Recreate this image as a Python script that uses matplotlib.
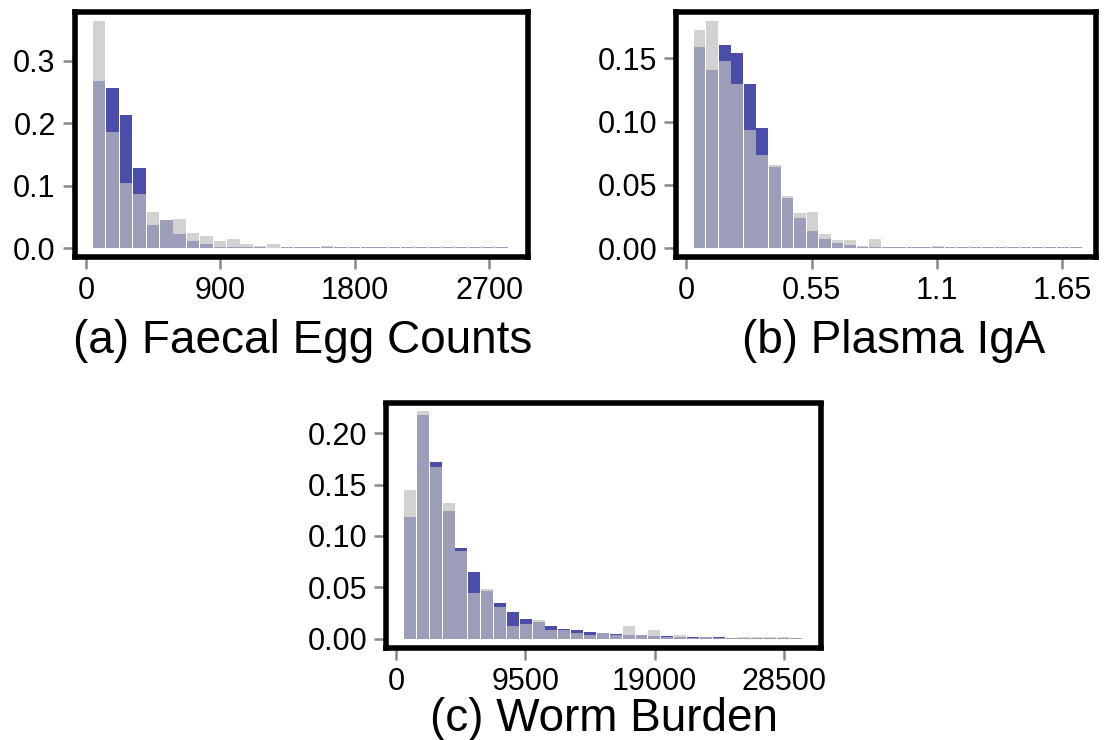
import matplotlib
matplotlib.use("Agg")
import matplotlib.pyplot as plt
import numpy as np

plt.rcParams['font.family'] = ['Liberation Sans', 'DejaVu Sans']

# ---------------- data ----------------
# (a) Faecal Egg Counts
fec_bin_start = 47.0
fec_bin_width = 89.7
fec_blue = [0.267, 0.2565, 0.213, 0.1285, 0.037, 0.045, 0.023, 0.0117, 0.007, 0.0025,
            0.0025, 0.002, 0.0015, 0.0012, 0.0015, 0.0015, 0.0015, 0.0015, 0.0015, 0.0015,
            0.0015, 0.0015, 0.0015, 0.0015, 0.0015, 0.0015, 0.0015, 0.0015, 0.0015, 0.0015, 0.0015]
fec_gray = [0.364, 0.186, 0.105, 0.087, 0.058, 0.0455, 0.047, 0.0245, 0.0197, 0.0117,
            0.015, 0.007, 0.0037, 0.007, 0.0015, 0.0015, 0.0025, 0.0037, 0.0025, 0.0015,
            0.0015, 0.0015, 0.0015, 0.0015, 0.0015, 0.0025, 0.0015, 0.0025, 0.0015, 0.0015, 0.0015]
fec_xticks = [0, 900, 1800, 2700]
fec_xticklabels = ['0', '900', '1800', '2700']
fec_yticks = [0.0, 0.1, 0.2, 0.3]
fec_yticklabels = ['0.0', '0.1', '0.2', '0.3']

# (b) Plasma IgA
iga_bin_start = 0.0323
iga_bin_width = 0.0551
iga_blue = [0.159, 0.141, 0.161, 0.154, 0.130, 0.095, 0.0642, 0.0397, 0.024, 0.0137,
            0.0074, 0.0042, 0.0026, 0.0012, 0.0008, 0.0008, 0.0008, 0.0008, 0.0008, 0.0008,
            0.0008, 0.0008, 0.0008, 0.0008, 0.0008, 0.0008, 0.0008, 0.0008, 0.0008, 0.0008, 0.0008]
iga_gray = [0.1724, 0.1795, 0.148, 0.130, 0.0934, 0.0737, 0.0658, 0.0413, 0.0279, 0.0287,
            0.0113, 0.0066, 0.0066, 0.0018, 0.0074, 0.0012, 0.0008, 0.0008, 0.0008, 0.0018,
            0.0008, 0.0008, 0.0008, 0.0008, 0.0008, 0.0008, 0.0008, 0.0008, 0.0008, 0.0008, 0.0008]
iga_xticks = [0, 0.55, 1.1, 1.65]
iga_xticklabels = ['0', '0.55', '1.1', '1.65']
iga_yticks = [0.0, 0.05, 0.10, 0.15]
iga_yticklabels = ['0.00', '0.05', '0.10', '0.15']

# (c) Worm Burden
wb_bin_start = 588.0
wb_bin_width = 945.0
wb_blue = [0.1185, 0.2179, 0.172, 0.1244, 0.0883, 0.0649, 0.0464, 0.0347, 0.026, 0.0192,
           0.0162, 0.0123, 0.0094, 0.0084, 0.0065, 0.0055, 0.0045, 0.0036, 0.0036, 0.0026,
           0.0026, 0.0016, 0.0016, 0.0016, 0.0016, 0.001, 0.001, 0.001, 0.0008, 0.0008, 0.0008]
wb_gray = [0.1448, 0.2218, 0.1672, 0.1321, 0.0854, 0.0445, 0.0484, 0.0308, 0.0123, 0.0143,
           0.0182, 0.0084, 0.0084, 0.0055, 0.0036, 0.0055, 0.0036, 0.0123, 0.0036, 0.0084,
           0.0016, 0.0036, 0.0008, 0.0016, 0.0008, 0.001, 0.0016, 0.0016, 0.0016, 0.0016, 0.0008]
wb_xticks = [0, 9500, 19000, 28500]
wb_xticklabels = ['0', '9500', '19000', '28500']
wb_yticks = [0.0, 0.05, 0.10, 0.15, 0.20]
wb_yticklabels = ['0.00', '0.05', '0.10', '0.15', '0.20']

titles = ['(a) Faecal Egg Counts', '(b) Plasma IgA', '(c) Worm Burden']

# ---------------- style ----------------
BLUE = '#4b4dab'
GRAY = '#c0c0c0'
W, H = 1120, 740

fig = plt.figure(figsize=(W / 100, H / 100), dpi=100)


def px_axes(left, right, top, bottom):
    return fig.add_axes([left / W, 1 - bottom / H, (right - left) / W, (bottom - top) / H])


panels = [
    dict(box=(74.5, 528, 11.5, 257), start=fec_bin_start, width=fec_bin_width,
         blue=fec_blue, gray=fec_gray, xlim=(-77, 2958), ylim=(-0.014, 0.379),
         xt=fec_xticks, xtl=fec_xticklabels, yt=fec_yticks, ytl=fec_yticklabels,
         title=titles[0], title_x=303, title_y=353),
    dict(box=(676, 1096, 12, 257), start=iga_bin_start, width=iga_bin_width,
         blue=iga_blue, gray=iga_gray, xlim=(-0.046, 1.80), ylim=(-0.0069, 0.1867),
         xt=iga_xticks, xtl=iga_xticklabels, yt=iga_yticks, ytl=iga_yticklabels,
         title=titles[1], title_x=894, title_y=353),
    dict(box=(386, 820.5, 403.5, 648), start=wb_bin_start, width=wb_bin_width,
         blue=wb_blue, gray=wb_gray, xlim=(-735, 31190), ylim=(-0.0091, 0.229),
         xt=wb_xticks, xtl=wb_xticklabels, yt=wb_yticks, ytl=wb_yticklabels,
         title=titles[2], title_x=604, title_y=731),
]

RW = 0.93
for p in panels:
    l, r, t, b = p['box']
    ax = px_axes(l, r, t, b)
    n = len(p['blue'])
    lefts = p['start'] + p['width'] * np.arange(n)
    ax.bar(lefts, p['blue'], width=p['width'] * RW, align='edge', color=BLUE,
           linewidth=0, zorder=2)
    ax.bar(lefts, p['gray'], width=p['width'] * RW, align='edge', color=GRAY, alpha=0.7,
           linewidth=0, zorder=3)
    ax.set_xlim(*p['xlim'])
    ax.set_ylim(*p['ylim'])
    ax.set_xticks(p['xt'])
    ax.set_xticklabels(p['xtl'])
    ax.set_yticks(p['yt'])
    ax.set_yticklabels(p['ytl'])
    ax.tick_params(axis='both', direction='out', length=8.5, width=1.8, color='#888888',
                   labelsize=22, pad=5, labelcolor='black')
    for s in ax.spines.values():
        s.set_linewidth(4.0)
        s.set_color('black')
        s.set_zorder(5)
    ax.set_facecolor('white')
    fig.text(p['title_x'] / W, 1 - p['title_y'] / H, p['title'], ha='center',
             va='baseline', fontsize=33, color='black')

fig.savefig('out.png', dpi=100)
